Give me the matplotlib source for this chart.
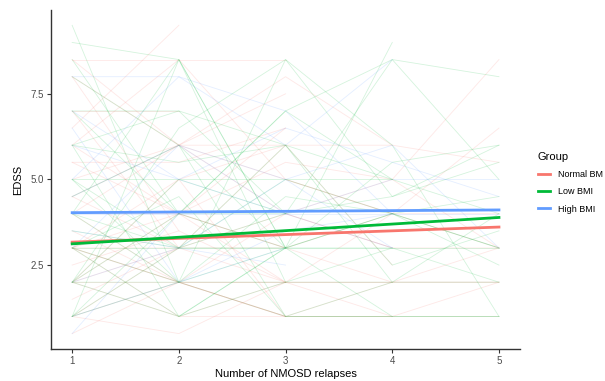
import matplotlib.pyplot as plt
from matplotlib.lines import Line2D

plt.rcParams['font.family'] = ['Liberation Sans', 'DejaVu Sans']

# EDSS score per patient at each relapse (relapse 1, 2, 3, ...)
normal_bmi = [
    [8.5, 8.5, 8.5], [8, 6, 6, 6, 5.5], [6.5, 9.5], [7, 7], [8, 3.5],
    [5.5, 4, 6.5], [3, 2, 1, 2, 3], [2, 1, 1], [1, 0.5, 2], [4, 6, 5, 4, 3],
    [3, 3, 3, 2, 2], [2, 4, 3], [1, 2, 1, 1, 2], [4.5, 3, 6], [6, 4, 2],
    [3, 5, 6, 2.5], [2, 2, 2, 2], [1.5, 3], [3.5, 2, 4, 3, 3], [5, 6, 4, 5, 8.5],
    [4, 2, 2, 1], [2.5, 3.5, 2], [6, 8.5, 5, 4], [3, 4, 3, 4, 4], [1, 3, 4, 3],
    [2, 5, 1], [7, 3], [8.5, 6, 8, 6], [4, 4, 5.5, 5, 3], [3, 1, 2, 2, 2],
    [5.5, 5.5, 6.5], [2, 3, 2, 4, 6.5], [0.5, 2], [4.5, 6, 7.5], [3, 2, 1, 1, 1],
]
low_bmi = [
    [9.5, 2], [9, 8.5, 3], [7, 7, 4], [5, 5, 5, 5], [6, 7, 6, 5],
    [1, 8.5, 3, 9], [2, 6.5, 8.5, 6, 1], [3, 1, 3, 1, 1], [2, 2, 1, 1, 1],
    [4, 3, 3, 4, 2.5], [8.5, 4, 7, 8.5, 5], [3, 4.5, 1, 2, 4], [1, 3, 5, 4, 3],
    [6, 1, 2], [2, 5, 4, 8.5, 8], [3.5, 3, 6, 2.5, 3.5], [4, 2, 4.5, 4, 3],
    [1, 2, 3, 3], [5, 2, 8.5, 4.5, 5.5], [7, 4, 3], [3, 3, 3, 3, 3],
    [2, 1, 3, 4, 4.5], [6, 5.5, 6, 2, 2], [4.5, 6, 3, 5.5, 6], [1, 4, 7, 5, 4],
    [3, 2, 2, 2], [8, 6, 1, 1], [2, 4, 4], [5, 3, 4, 4.5, 6], [4, 8.5, 2, 3, 2],
]
high_bmi = [
    [8, 8, 6, 8.5], [0.5, 4], [3, 6, 4, 3], [6.5, 2, 3], [4, 4, 4, 4, 4],
    [2, 3, 5, 6, 3], [5, 8, 7, 4], [3.5, 3, 2.5], [7, 5, 6.5, 5.5, 4.5],
    [1, 2, 3.5, 4], [4.5, 6, 5, 3], [6, 5, 4, 5, 5],
]

# fitted trend per group at relapse 1 and relapse 5
group_names = ['Normal BM', 'Low BMI', 'High BMI']
fit_x = [1, 5]
fit_normal = [3.17, 3.61]
fit_low = [3.12, 3.89]
fit_high = [4.03, 4.11]

colors = ['#F8766D', '#00BA38', '#619CFF']

fig = plt.figure(figsize=(6.05, 3.81), dpi=100)
ax = fig.add_axes([0.084, 0.084, 0.776, 0.89])

for patients, col in zip([normal_bmi, low_bmi, high_bmi], colors):
    for edss in patients:
        ax.plot(range(1, len(edss) + 1), edss, color=col, alpha=0.17, lw=0.6)

for fit, col in zip([fit_normal, fit_low, fit_high], colors):
    ax.plot(fit_x, fit, color=col, lw=2.0)

ax.set_xlim(0.8, 5.2)
ax.set_ylim(0.05, 9.95)
ax.set_xticks([1, 2, 3, 4, 5])
ax.set_yticks([2.5, 5.0, 7.5])
ax.set_yticklabels(['2.5', '5.0', '7.5'])
for side in ['top', 'right']:
    ax.spines[side].set_visible(False)
for side in ['left', 'bottom']:
    ax.spines[side].set_color('#333333')
    ax.spines[side].set_linewidth(1.0)
ax.tick_params(colors='#333333', labelcolor='#4D4D4D', labelsize=7, length=3,
               width=0.8, pad=2)
ax.set_xlabel('Number of NMOSD relapses', fontsize=8, labelpad=2)
ax.set_ylabel('EDSS', fontsize=8, labelpad=5)

handles = [Line2D([], [], color=c, lw=2) for c in colors]
leg = ax.legend(handles, group_names, title='Group', loc='center left',
                bbox_to_anchor=(1.02, 0.49), frameon=False, fontsize=6.5,
                title_fontsize=8, handlelength=1.4, handletextpad=0.8,
                labelspacing=0.9, alignment='left')

plt.savefig('out.png', dpi=100)
